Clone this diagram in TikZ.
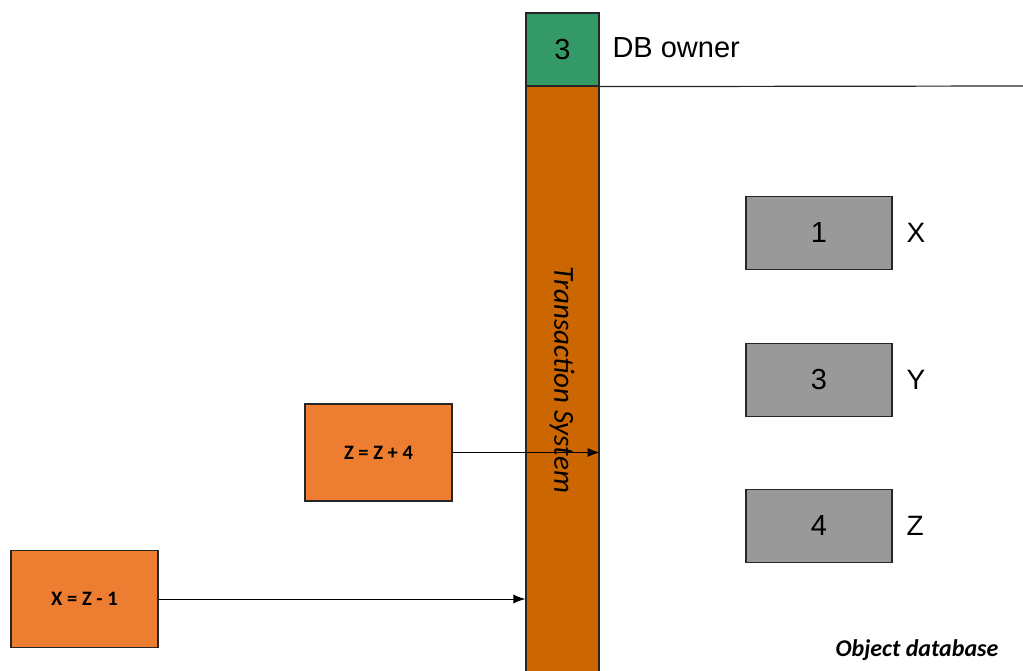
\documentclass[tikz,border=0pt]{standalone}
\usepackage{fontspec}
\setmainfont{Liberation Sans}
\newfontfamily\calibri{Carlito}
\usepackage{tikz}
\usetikzlibrary{positioning, arrows.meta}

\definecolor{opOrange}{HTML}{ED7D31}
\definecolor{barOrange}{HTML}{CC6600}
\definecolor{ownerGreen}{HTML}{339966}
\definecolor{valueGray}{HTML}{999999}

\begin{document}
\begin{tikzpicture}[x=1pt, y=-1pt,
		opbox/.style={shape=rectangle, draw=black!85, line width=1.2pt, fill=opOrange,
			minimum width=147pt, minimum height=97pt,
			font=\calibri\bfseries\fontsize{20.5}{22}\selectfont},
		valbox/.style={shape=rectangle, draw=black!85, line width=1.2pt, fill=valueGray,
			minimum width=146pt, minimum height=73pt, font=\fontsize{29}{32}\selectfont},
		vallabel/.style={anchor=west, font=\fontsize{28}{32}\selectfont},
		toarrow/.style={-{Latex[length=12pt, width=9pt]}, line width=1pt}]
			
			% Marco de la figura
			\useasboundingbox (0,0) rectangle (1023,671);
			
			% Barra del sistema de transacciones
			\node[shape=rectangle, draw=black!85, line width=1.2pt, fill=barOrange,
				minimum width=73pt, minimum height=590pt] (Bar) at (562.5,381) {};
			\node[rotate=-90, font=\calibri\itshape\fontsize{29}{34}\selectfont] (BarText) at (562,380) {Transaction System};
			
			% Propietario de la base
			\node[shape=rectangle, draw=black!85, line width=1.2pt, fill=ownerGreen,
				minimum width=73pt, minimum height=73pt, font=\fontsize{29}{32}\selectfont] (Owner) at (562.5,49.5) {3};
			\node[anchor=west, font=\fontsize{29}{32}\selectfont] (OwnerText) at (609,48) {DB owner};
			\coordinate (LineEnd) at (1023,86);
			\draw[line width=1.2pt, black!85] (Owner.south east) -- (LineEnd);
			
			% Valores de la base de objetos
			\foreach \v/\n/\y in {1/X/233, 3/Y/380, 4/Z/526} {
				\node[valbox] (Value\n) at (819,\y) {\v};
				\node[vallabel] (Label\n) at (903,\y) {\n};
			}
			
			% Operaciones
			\node[opbox] (OpZ) at (378.5,452.5) {Z = Z + 4};
			\node[opbox] (OpX) at (84.5,599) {X = Z - 1};
			
			% Flechas hacia el sistema
			\draw[toarrow] (OpZ.east) -- (OpZ.east -| Bar.east);
			\draw[toarrow] (OpX.east) -- (OpX.east -| Bar.west);
			
			% Etiqueta
			\node[font=\calibri\bfseries\itshape\fontsize{24}{28}\selectfont] (DbName) at (917,650) {Object database};
			
		\end{tikzpicture}
\end{document}
